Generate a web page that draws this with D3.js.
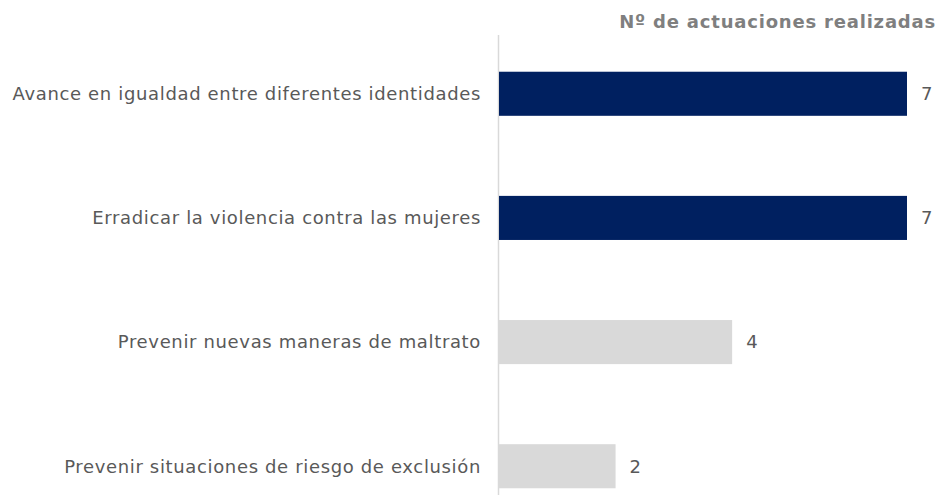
<!DOCTYPE html>
<html><head><meta charset="utf-8">
<script src="https://cdn.jsdelivr.net/npm/d3@7"></script>
<style>body{margin:0;background:#fff}svg{display:block}</style>
</head><body>
<svg id="c" width="941" height="504"></svg>
<script>
const categories = ["Avance en igualdad entre diferentes identidades","Erradicar la violencia contra las mujeres","Prevenir nuevas maneras de maltrato","Prevenir situaciones de riesgo de exclusión"];
const values = [7,7,4,2];
const colors = ["#002060","#002060","#d9d9d9","#d9d9d9"];
const title = "Nº de actuaciones realizadas";

const svg = d3.select("#c");
const x = d3.scaleLinear().domain([0,7]).range([499,907]);
const y = d3.scaleBand().domain(categories).range([32,528]).paddingInner(0.645).paddingOuter(0.32);
const font = "DejaVu Sans, Verdana, sans-serif";

svg.append("line").attr("x1",498.5).attr("x2",498.5).attr("y1",35).attr("y2",495)
  .attr("stroke","#d9d9d9").attr("stroke-width",1.5);

svg.selectAll("rect.bar").data(categories).join("rect").attr("class","bar")
  .attr("x",x(0)).attr("y",d=>y(d)).attr("height",y.bandwidth())
  .attr("width",(d,i)=>x(values[i])-x(0)).attr("fill",(d,i)=>colors[i]);

svg.selectAll("text.cat").data(categories).join("text").attr("class","cat")
  .attr("x",481).attr("y",d=>y(d)+y.bandwidth()/2).attr("dy","0.35em")
  .attr("text-anchor","end").attr("font-family",font)
  .attr("font-size",18).attr("letter-spacing","0.65px").attr("fill","#595959").text(d=>d);

svg.selectAll("text.val").data(categories).join("text").attr("class","val")
  .attr("x",(d,i)=>x(values[i])+14).attr("y",d=>y(d)+y.bandwidth()/2).attr("dy","0.35em")
  .attr("font-family",font)
  .attr("font-size",18).attr("fill","#595959").text((d,i)=>values[i]);

svg.append("text").attr("x",936).attr("y",28).attr("text-anchor","end")
  .attr("font-family",font).attr("font-weight","bold")
  .attr("font-size",18).attr("letter-spacing","0.8px").attr("fill","#7f7f7f").text(title);
</script>
</body></html>
